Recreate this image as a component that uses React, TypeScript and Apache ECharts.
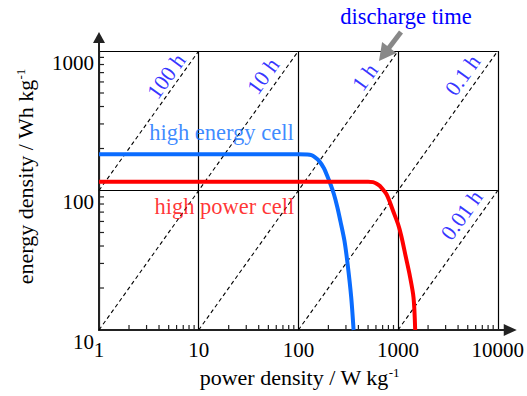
import React, { useEffect, useRef } from 'react';
import * as echarts from 'echarts';

// ---- data ----
const highEnergyPower = [1, 100, 123, 135, 145, 161, 180, 195, 211, 227, 246, 264, 290, 312, 339, 358];
const highEnergyEnergy = [182, 182, 181, 179, 174, 163, 145, 127, 110, 94.4, 75.9, 60.3, 43.5, 29.6, 17.1, 10];

const highPowerPower = [1, 500, 560, 610, 658, 710, 766, 830, 892, 1000, 1079, 1200, 1303, 1429, 1485];
const highPowerEnergy = [115.6, 115.6, 114.8, 112, 107.7, 101, 93.9, 82, 71.3, 57.3, 47, 33, 25.1, 17.1, 10];

const dischargeHours = [100, 10, 1, 0.1, 0.01];
const dischargeLabels = ['100 h', '10 h', '1 h', '0.1 h', '0.01 h'];
const dischargeLabelPower = [4.72, 44.2, 463, 4436, 4335];
const dischargeLabelEnergy = [662, 662, 651, 673, 66.7];

const cellLabels = ['high energy cell', 'high power cell'];
const cellLabelPower = [16.9, 18.1];
const cellLabelEnergy = [262, 76.2];

const xRange = [1, 10000];
const yRange = [10, 1000];
const xMinorTicks = [2, 3, 4, 5, 6, 7, 8, 9, 20, 30, 40, 50, 60, 70, 80, 90, 200, 300, 400, 500, 600, 700, 800, 900, 2000, 3000, 4000, 5000, 6000, 7000, 8000, 9000];
const yMinorTicks = [20, 30, 40, 50, 60, 70, 80, 90, 200, 300, 400, 500, 600, 700, 800, 900];

const FONT = 'Liberation Serif, serif';
const BLUE = '#0a6cff';
const RED = '#ff0000';
const LABEL_BLUE = '#0000ff';

const zip = (a: number[], b: number[]) => a.map((v, i) => [v, b[i]]);

export default function App() {
  const ref = useRef<HTMLDivElement>(null);
  useEffect(() => {
    const chart = echarts.init(ref.current!, null, { renderer: 'svg' });
    const diagSeries = dischargeHours.map((t) => ({
      type: 'line',
      data: [
        [Math.max(xRange[0], yRange[0] / t), Math.max(xRange[0], yRange[0] / t) * t],
        [Math.min(xRange[1], yRange[1] / t), Math.min(xRange[1], yRange[1] / t) * t],
      ],
      symbol: 'none',
      silent: true,
      lineStyle: { color: '#000', width: 1.1, type: [4, 3] },
      z: 2,
    }));
    chart.setOption({
      animation: false,
      textStyle: { fontFamily: FONT },
      grid: { left: 99, right: 25, top: 51, bottom: 66 },
      xAxis: {
        type: 'log',
        logBase: 10,
        min: xRange[0],
        max: xRange[1],
        axisLine: { show: true, lineStyle: { color: '#222', width: 2 } },
        axisTick: { show: false },
        splitLine: { show: true, lineStyle: { color: '#000', width: 1.2 } },
        axisLabel: {
          fontSize: 21,
          fontFamily: FONT,
          color: '#000',
          margin: 9,
          formatter: (v: number) => String(Math.round(v)),
        },
      },
      yAxis: {
        type: 'log',
        logBase: 10,
        min: yRange[0],
        max: yRange[1],
        axisLine: { show: true, lineStyle: { color: '#222', width: 2 } },
        axisTick: { show: false },
        splitLine: { show: true, lineStyle: { color: '#000', width: 1.2 } },
        axisLabel: {
          fontSize: 21,
          fontFamily: FONT,
          color: '#000',
          margin: 5,
          verticalAlign: 'top',
          padding: [1, 0, 0, 0],
          formatter: (v: number) => String(Math.round(v)),
        },
      },
      series: [
        ...diagSeries,
        {
          type: 'custom',
          silent: true,
          clip: false,
          data: xMinorTicks.map((v) => [v, yRange[0]]),
          renderItem: (params: any, api: any) => {
            const p = api.coord([api.value(0), api.value(1)]);
            return {
              type: 'line',
              shape: { x1: p[0], y1: p[1], x2: p[0], y2: p[1] - 5 },
              style: { stroke: '#222', lineWidth: 1.2 },
            };
          },
          z: 5,
        },
        {
          type: 'custom',
          silent: true,
          clip: false,
          data: yMinorTicks.map((v) => [xRange[0], v]),
          renderItem: (params: any, api: any) => {
            const p = api.coord([api.value(0), api.value(1)]);
            return {
              type: 'line',
              shape: { x1: p[0], y1: p[1], x2: p[0] + 5, y2: p[1] },
              style: { stroke: '#222', lineWidth: 1.2 },
            };
          },
          z: 5,
        },
        {
          name: 'high energy cell',
          type: 'line',
          data: zip(highEnergyPower, highEnergyEnergy),
          symbol: 'none',
          smooth: 0.3,
          lineStyle: { color: BLUE, width: 4 },
          z: 4,
        },
        {
          name: 'high power cell',
          type: 'line',
          data: zip(highPowerPower, highPowerEnergy),
          symbol: 'none',
          smooth: 0.3,
          lineStyle: { color: RED, width: 4 },
          z: 4,
        },
        {
          type: 'scatter',
          symbolSize: 0,
          silent: true,
          data: dischargeLabels.map((name, i) => ({
            value: [dischargeLabelPower[i], dischargeLabelEnergy[i]],
            name,
          })),
          label: {
            show: true,
            position: 'inside',
            rotate: 54,
            formatter: (p: any) => p.name,
            color: LABEL_BLUE,
            fontSize: 22,
            fontFamily: FONT,
            fontWeight: 'normal',
          },
          z: 6,
        },
        {
          type: 'scatter',
          symbolSize: 0,
          silent: true,
          data: cellLabels.map((name, i) => ({
            value: [cellLabelPower[i], cellLabelEnergy[i]],
            name,
            label: { color: i === 0 ? BLUE : RED },
          })),
          label: {
            show: true,
            position: 'inside',
            formatter: (p: any) => p.name,
            fontSize: 22.5,
            fontFamily: FONT,
            fontWeight: 'normal',
          },
          z: 6,
        },
      ],
    });

    const xe = chart.convertToPixel({ gridIndex: 0 }, [xRange[1], yRange[0]]) as number[];
    const ye = chart.convertToPixel({ gridIndex: 0 }, [xRange[0], yRange[1]]) as number[];
    const o = chart.convertToPixel({ gridIndex: 0 }, [xRange[0], yRange[0]]) as number[];
    const plotCx = (o[0] + xe[0]) / 2;
    const plotCy = (o[1] + ye[1]) / 2;

    // discharge-time arrow
    const tail = [401, 32];
    const tip = [379, 61];
    const dx = tip[0] - tail[0];
    const dy = tip[1] - tail[1];
    const len = Math.hypot(dx, dy);
    const ux = dx / len;
    const uy = dy / len;
    const hl = 17;
    const hw = 9;
    const bc = [tip[0] - hl * ux, tip[1] - hl * uy];

    const supStyle = { font: '13px Liberation Serif, serif', fill: '#000', verticalAlign: 'top' };

    chart.setOption({
      graphic: [
        // y-axis arrow
        {
          type: 'line',
          shape: { x1: ye[0], y1: ye[1], x2: ye[0], y2: ye[1] - 9 },
          style: { stroke: '#222', lineWidth: 2 },
          z: 10,
        },
        {
          type: 'polygon',
          shape: { points: [[ye[0] - 6, ye[1] - 8], [ye[0] + 6, ye[1] - 8], [ye[0], ye[1] - 19]] },
          style: { fill: '#222' },
          z: 10,
        },
        // x-axis arrow
        {
          type: 'line',
          shape: { x1: xe[0], y1: xe[1], x2: xe[0] + 7, y2: xe[1] },
          style: { stroke: '#222', lineWidth: 2 },
          z: 10,
        },
        {
          type: 'polygon',
          shape: { points: [[xe[0] + 6, xe[1] - 6], [xe[0] + 6, xe[1] + 6], [xe[0] + 19, xe[1]]] },
          style: { fill: '#222' },
          z: 10,
        },
        // axis names
        {
          type: 'text',
          x: plotCx + 1,
          y: o[1] + 47,
          style: {
            text: 'power density / W kg{sup|-1}',
            font: '22px Liberation Serif, serif',
            fill: '#000',
            align: 'center',
            verticalAlign: 'middle',
            rich: { sup: supStyle },
          },
          z: 10,
        },
        {
          type: 'text',
          x: 25,
          y: plotCy - 14,
          rotation: Math.PI / 2,
          style: {
            text: 'energy density / Wh kg{sup|-1}',
            font: '22px Liberation Serif, serif',
            fill: '#000',
            align: 'center',
            verticalAlign: 'middle',
            rich: { sup: supStyle },
          },
          z: 10,
        },
        // discharge time title and arrow
        {
          type: 'text',
          x: 406,
          y: 16,
          style: {
            text: 'discharge time',
            font: '22.5px Liberation Serif, serif',
            fill: LABEL_BLUE,
            align: 'center',
            verticalAlign: 'middle',
          },
          z: 10,
        },
        {
          type: 'line',
          shape: { x1: tail[0], y1: tail[1], x2: bc[0] + ux * 2, y2: bc[1] + uy * 2 },
          style: { stroke: '#888', lineWidth: 5 },
          z: 10,
        },
        {
          type: 'polygon',
          shape: {
            points: [
              [tip[0], tip[1]],
              [bc[0] - hw * uy, bc[1] + hw * ux],
              [bc[0] + hw * uy, bc[1] - hw * ux],
            ],
          },
          style: { fill: '#888' },
          z: 10,
        },
      ],
    });
    return () => chart.dispose();
  }, []);
  return <div ref={ref} style={{ position: 'absolute', left: 0, top: 0, width: 527, height: 396 }} />;
}
